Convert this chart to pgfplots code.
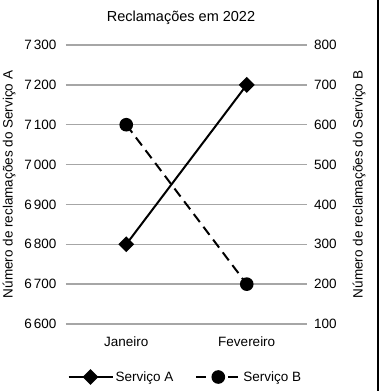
\documentclass[border=0pt]{standalone}
\usepackage{fontspec}
\setmainfont{Liberation Sans}
\usepackage{pgfplots}
\pgfplotsset{compat=1.18}
\begin{document}
\begin{tikzpicture}
\path[use as bounding box] (0pt,0pt) rectangle (379pt,391pt);
\fill[white] (0pt,0pt) rectangle (379pt,391pt);
\draw[black, line width=1.5pt] (377.8pt,0pt) -- (377.8pt,391pt);
\node[anchor=base, font=\fontsize{14.5}{16}\selectfont] at (181pt,369pt) {Reclamações em 2022};
\pgfplotsset{
  common/.style={
    at={(66pt,67pt)}, anchor=south west, scale only axis,
    width=241pt, height=279pt,
    xmin=-0.5, xmax=1.5,
    axis line style={draw=none},
    major tick length=0pt,
    tick label style={font=\fontsize{13.5}{15}\selectfont},
    /pgf/number format/assume math mode=true,
    /pgf/number format/1000 sep={\hspace{2pt}},
    legend image code/.code={\draw[mark repeat=2,mark phase=2,##1] plot coordinates {(0pt,0pt)(22pt,0pt)(44pt,0pt)};},
  },
  sA/.style={black, line width=2pt, mark=square*, mark size=4.6pt, mark options={rotate=45, solid}},
  sB/.style={black, line width=2pt, dash pattern=on 10pt off 6pt, mark=*, mark size=5.8pt, mark options={solid}},
}
\begin{axis}[common,
  ymin=6600, ymax=7300, ytick={6600,6700,...,7300},
  xtick={0,1}, xticklabels={Janeiro,Fevereiro},
  xticklabel style={yshift=-9pt},
  yticklabel style={xshift=-6pt},
  ymajorgrids, grid style={gray!70, line width=1.3pt},
  ylabel={Número de reclamações do Serviço A},
  every axis y label/.style={at={(axis description cs:-0.236,0.5)}, rotate=90, anchor=center, font=\fontsize{13.5}{15}\selectfont},
]
\addplot[sA] coordinates {(0,6800) (1,7200)};
\end{axis}
\begin{axis}[common,
  ymin=100, ymax=800, ytick={100,200,...,800},
  axis y line*=right, hide x axis,
  yticklabel style={xshift=3.5pt},
  ylabel={Número de reclamações do Serviço B},
  every axis y label/.style={at={(axis description cs:1.216,0.5)}, rotate=90, anchor=center, font=\fontsize{13.5}{15}\selectfont},
  legend style={at={(axis description cs:0.495,-0.19)}, anchor=center, draw=none, fill=none,
    legend columns=2, font=\fontsize{13.5}{15}\selectfont,
    /tikz/every even column/.append style={column sep=20pt}},
]
\addlegendimage{sA}
\addlegendentry{Serviço A}
\addplot[sB] coordinates {(0,600) (1,200)};
\addlegendentry{Serviço B}
\end{axis}
\end{tikzpicture}
\end{document}
